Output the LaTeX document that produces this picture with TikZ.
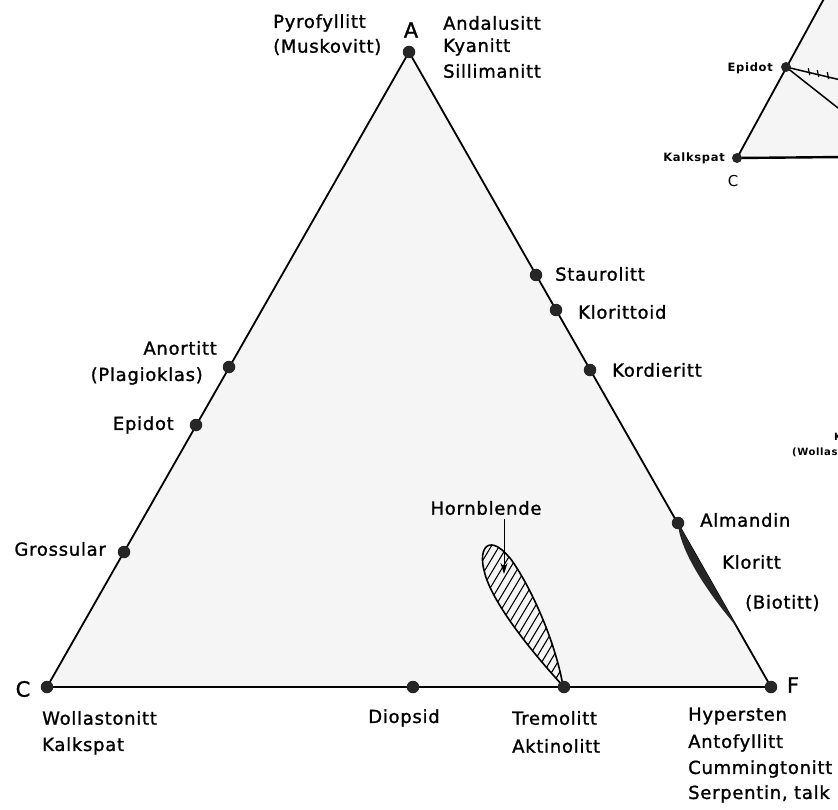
\documentclass[tikz,border=0pt]{standalone}
\usepackage{fontspec}
\setmainfont{DejaVu Sans}[LetterSpace=4,FakeBold=1.2]
\newfontfamily\minifont{DejaVu Sans}[LetterSpace=6]
\usetikzlibrary{arrows.meta}
\tikzset{
  lbl/.style={inner sep=0pt, font=\fontsize{18}{20}\selectfont},
  big/.style={inner sep=0pt, font=\fontsize{21}{23}\selectfont},
  mini/.style={inner sep=0pt, font=\minifont\bfseries\fontsize{11.5}{13}\selectfont},
  tiny/.style={inner sep=0pt, font=\minifont\bfseries\fontsize{10}{12}\selectfont},
  dot/.style={circle, fill=black!85, inner sep=0pt, minimum size=12.5pt},
  sdot/.style={circle, fill=black!85, inner sep=0pt, minimum size=10pt},
  edge/.style={line width=1.8pt},
  base/.style={line width=2.4pt},
  areafill/.style={fill=black!4},
}
\begin{document}
\begin{tikzpicture}[x=1pt,y=-1pt]
\useasboundingbox (0,0) rectangle (838,810);
\clip (0,0) rectangle (838,810);
\fill[white] (0,0) rectangle (838,810);

% ---------- main triangle ----------
\coordinate (pA) at (409,52);
\coordinate (pC) at (47,687);
\coordinate (pF) at (771,687);
\fill[areafill] (pA) -- (pC) -- (pF) -- cycle;
\draw[edge] (pC) -- (pA) -- (pF);
\draw[base] (pC) -- (pF);

% Almandin - Kloritt dark lens
\coordinate (pAlm) at (678,523);
\coordinate (pLensEnd) at (737,627);
\fill[black!85] (pAlm) .. controls (679,548) and (705,590) .. (pLensEnd) -- (pAlm) -- cycle;

% Hornblende hatched field
\coordinate (pTre) at (564,687);
\begin{scope}
  \clip (563,686) .. controls (530,650) and (490,600) .. (484,570)
        .. controls (480,555) and (484,544) .. (492,545)
        .. controls (500,546) and (505,553) .. (510,558)
        .. controls (530,585) and (555,640) .. (563,686) -- cycle;
  \foreach \i in {0,...,26} {
    \draw[line width=1.1pt] ({375+\i*8},700) -- ({375+\i*8+120},500);
  }
\end{scope}
\draw[line width=1.6pt] (563,686) .. controls (530,650) and (490,600) .. (484,570)
        .. controls (480,555) and (484,544) .. (492,545)
        .. controls (500,546) and (505,553) .. (510,558)
        .. controls (530,585) and (555,640) .. (563,686);

% dots
\node[dot] (A) at (pA) {};
\node[dot] (C) at (pC) {};
\node[dot] (F) at (pF) {};
\node[dot] (An) at (229,367) {};
\node[dot] (Ep) at (196,425) {};
\node[dot] (Gr) at (124,552) {};
\node[dot] (St) at (536,275) {};
\node[dot] (Kt) at (556,310) {};
\node[dot] (Ko) at (590,370) {};
\node[dot] (Al) at (pAlm) {};
\node[dot] (Di) at (413,687) {};
\node[dot] (Tr) at (pTre) {};

% vertex letters
\node[big] (lA) at (411,30) {A};
\node[big] (lC) at (23,689) {C};
\node[big] (lF) at (793,685) {F};

% labels
\node[lbl, anchor=west] (lPy) at (273,23) {Pyrofyllitt};
\node[lbl, anchor=west] (lMu) at (273,47) {(Muskovitt)};
\node[lbl, anchor=west] (lAn1) at (443,23) {Andalusitt};
\node[lbl, anchor=west] (lKy) at (443,47) {Kyanitt};
\node[lbl, anchor=west] (lSi) at (443,71) {Sillimanitt};
\node[lbl, anchor=west] (lSt) at (555,274) {Staurolitt};
\node[lbl, anchor=west] (lKt) at (578,312) {Klorittoid};
\node[lbl, anchor=west] (lKo) at (612,370) {Kordieritt};
\node[lbl, anchor=east] (lAn) at (217,348) {Anortitt};
\node[lbl, anchor=east] (lPl) at (203,376) {(Plagioklas)};
\node[lbl, anchor=east] (lEp) at (174,425) {Epidot};
\node[lbl, anchor=east] (lGr) at (106,549) {Grossular};
\node[lbl] (lHb) at (486,508) {Hornblende};
\node[lbl, anchor=west] (lAl) at (700,520) {Almandin};
\node[lbl, anchor=west] (lKl) at (722,562) {Kloritt};
\node[lbl, anchor=west] (lBi) at (745,603) {(Biotitt)};
\node[lbl, anchor=west] (lWo) at (42,718) {Wollastonitt};
\node[lbl, anchor=west] (lKa) at (42,746) {Kalkspat};
\node[lbl] (lDi) at (404,718) {Diopsid};
\node[lbl, anchor=west] (lTr) at (512,718) {Tremolitt};
\node[lbl, anchor=west] (lAk) at (512,746) {Aktinolitt};
\node[lbl, anchor=west] (lHy) at (688,716) {Hypersten};
\node[lbl, anchor=west] (lAf) at (688,743) {Antofyllitt};
\node[lbl, anchor=west] (lCu) at (688,769) {Cummingtonitt};
\node[lbl, anchor=west] (lSe) at (688,794) {Serpentin, talk};

% Hornblende arrow
\coordinate (hbTip) at (504,574);
\draw[line width=1pt, -{Stealth[length=11pt,width=7pt]}] (hbTip |- lHb.south) ++(0,4) -- (hbTip);

% ---------- second (cut-off) triangle, top right ----------
\coordinate (pK2) at (737,158);
\coordinate (pE2) at (786,67);
\coordinate (pTop2) at (832,-16);
\coordinate (pRight2) at (845,157);
\coordinate (pR1) at (845,81);
\coordinate (pR2) at (845,113.5);
\fill[areafill] (pK2) -- (pTop2) -- (845,-16) -- (pRight2) -- cycle;
\draw[edge] (pK2) -- (pTop2);
\draw[base] (pK2) -- (pRight2);
\draw[line width=1.5pt] (pE2) -- (pR1);
\draw[line width=1.5pt] (pE2) -- (pR2);
\foreach \tx in {809,818,828} {
  \draw[line width=1.2pt] ({\tx-0.7},{67+(\tx-786)*0.2034-3.5}) -- ({\tx+0.7},{67+(\tx-786)*0.2034+3.5});
}
\node[sdot] (K2) at (pK2) {};
\node[sdot] (E2) at (pE2) {};
\node[mini, anchor=east] (lE2) at (773,68) {Epidot};
\node[mini, anchor=east] (lK2) at (725,158) {Kalkspat};
\node[mini, font=\minifont\fontsize{15}{17}\selectfont] (lC2) at (733,181) {C};
\node[tiny, anchor=west] (lK3) at (834,438) {Kalkspat};
\node[tiny, anchor=west] (lW3) at (792,452) {(Wollastonitt)};
\end{tikzpicture}
\end{document}
